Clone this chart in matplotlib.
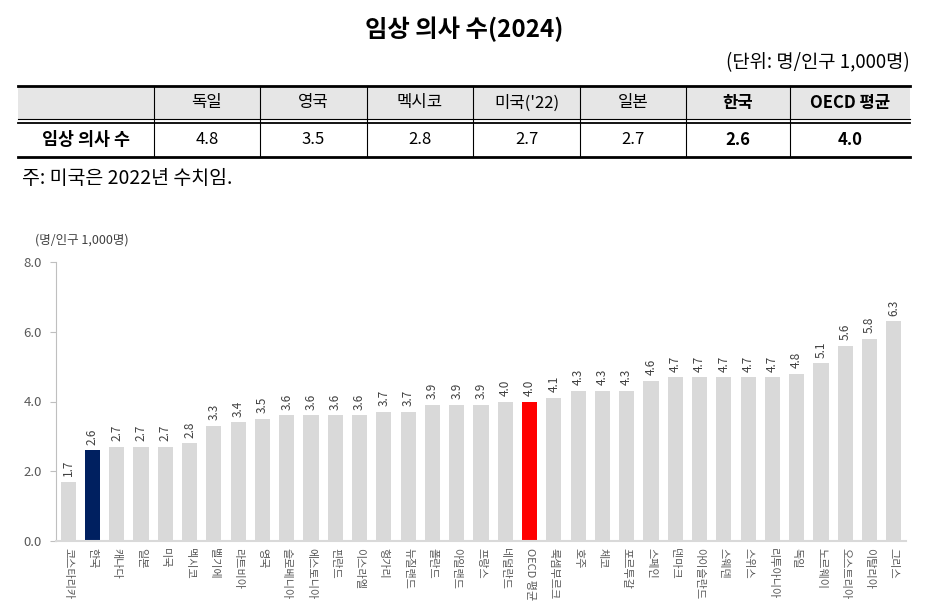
import matplotlib
matplotlib.use("Agg")
import matplotlib.pyplot as plt
from matplotlib.lines import Line2D
from matplotlib.patches import Rectangle

plt.rcParams['font.family'] = ['Noto Sans CJK KR', 'DejaVu Sans']

# ---------------- data ----------------
title = "임상 의사 수(2024)"
unit_note = "(단위: 명/인구 1,000명)"
table_cols = ["독일", "영국", "멕시코", "미국('22)", "일본", "한국", "OECD 평균"]
table_row_label = "임상 의사 수"
table_vals = ["4.8", "3.5", "2.8", "2.7", "2.7", "2.6", "4.0"]
table_bold = [False, False, False, False, False, True, True]
footnote = "주: 미국은 2022년 수치임."

chart_unit = "(명/인구 1,000명)"
countries = ["코스타리카", "한국", "캐나다", "일본", "미국", "멕시코", "벨기에", "라트비아",
             "영국", "슬로베니아", "에스토니아", "핀란드", "이스라엘", "헝가리", "뉴질랜드",
             "폴란드", "아일랜드", "프랑스", "네덜란드", "OECD 평균", "룩셈부르크", "호주",
             "체코", "포르투갈", "스페인", "덴마크", "아이슬란드", "스웨덴", "스위스",
             "리투아니아", "독일", "노르웨이", "오스트리아", "이탈리아", "그리스"]
values = [1.7, 2.6, 2.7, 2.7, 2.7, 2.8, 3.3, 3.4, 3.5, 3.6, 3.6, 3.6, 3.6, 3.7, 3.7,
          3.9, 3.9, 3.9, 4.0, 4.0, 4.1, 4.3, 4.3, 4.3, 4.6, 4.7, 4.7, 4.7, 4.7, 4.7,
          4.8, 5.1, 5.6, 5.8, 6.3]
y_ticks = [0.0, 2.0, 4.0, 6.0, 8.0]

GRAY = "#d9d9d9"
KOREA = "#002060"
OECD = "#ff0000"

W, H = 928, 614
fig = plt.figure(figsize=(W / 100, H / 100), dpi=100)

# overlay axes in pixel coordinates (y from top) for title/table
ov = fig.add_axes([0, 0, 1, 1])
ov.set_xlim(0, W)
ov.set_ylim(H, 0)
ov.axis("off")

ov.text(W / 2, 29, title, ha="center", va="center", fontsize=17.5, fontweight="bold")
ov.text(910, 63, unit_note, ha="right", va="center", fontsize=13.5)

# table
x_edges = [18, 154, 260, 367, 473, 580, 686, 790, 910]
top, hdr_bot, bot = 86, 120, 157
ov.add_patch(Rectangle((x_edges[0], top), x_edges[-1] - x_edges[0], hdr_bot - top,
                       facecolor="#e6e6e6", edgecolor="none"))
ov.add_line(Line2D([x_edges[0], x_edges[-1]], [top, top], color="black", lw=2))
ov.add_line(Line2D([x_edges[0], x_edges[-1]], [119.3, 119.3], color="black", lw=0.8))
ov.add_line(Line2D([x_edges[0], x_edges[-1]], [122.5, 122.5], color="black", lw=1.3))
ov.add_line(Line2D([x_edges[0], x_edges[-1]], [bot, bot], color="black", lw=2))
for xe in x_edges[1:-1]:
    ov.add_line(Line2D([xe, xe], [top, bot], color="black", lw=0.8))

hdr_y = (top + hdr_bot) / 2
body_y = (122.5 + bot) / 2
ov.text((x_edges[0] + x_edges[1]) / 2, body_y, table_row_label, ha="center", va="center",
        fontsize=12.5, fontweight="bold")
for i, (c, v, b) in enumerate(zip(table_cols, table_vals, table_bold)):
    cx = (x_edges[i + 1] + x_edges[i + 2]) / 2
    fw = "bold" if b else "normal"
    ov.text(cx, hdr_y, c, ha="center", va="center", fontsize=12, fontweight=fw)
    ov.text(cx, body_y, v, ha="center", va="center", fontsize=12, fontweight=fw)

ov.text(22, 178, footnote, ha="left", va="center", fontsize=14)

# ---------------- bar chart ----------------
left, right, bottom_px, top_px = 56, 906, 541, 262
ax = fig.add_axes([left / W, 1 - bottom_px / H, (right - left) / W, (bottom_px - top_px) / H])

colors = []
for c in countries:
    if c == "한국":
        colors.append(KOREA)
    elif c == "OECD 평균":
        colors.append(OECD)
    else:
        colors.append(GRAY)

x = list(range(len(countries)))
ax.bar(x, values, width=0.62, color=colors, zorder=2)
for xi, v in zip(x, values):
    ax.annotate(f"{v:.1f}", (xi, v), xytext=(0, 4), textcoords="offset points",
                ha="center", va="bottom", rotation=90, fontsize=8.5, color="#404040")

ax.set_xlim(-0.5, len(countries) - 0.5)
ax.set_ylim(0, 8)
ax.set_yticks(y_ticks)
ax.set_yticklabels([f"{t:.1f}" for t in y_ticks], fontsize=9.5, color="#595959")
ax.set_xticks(x)
ax.set_xticklabels(countries, rotation=270, fontsize=8, color="#595959", va="top", ha="center")
ax.tick_params(axis="y", length=4, color="#bfbfbf", width=0.8, pad=6)
ax.tick_params(axis="x", length=0, pad=5)
for s in ["top", "right"]:
    ax.spines[s].set_visible(False)
ax.spines["left"].set_color("#bfbfbf")
ax.spines["bottom"].set_color("#d9d9d9")
ax.spines["left"].set_linewidth(0.8)
ax.spines["bottom"].set_linewidth(1.5)
ax.patch.set_alpha(0)

fig.text(35 / W, 1 - 240 / H, chart_unit, ha="left", va="center", fontsize=9, color="#404040")

fig.savefig("out.png", dpi=100)
